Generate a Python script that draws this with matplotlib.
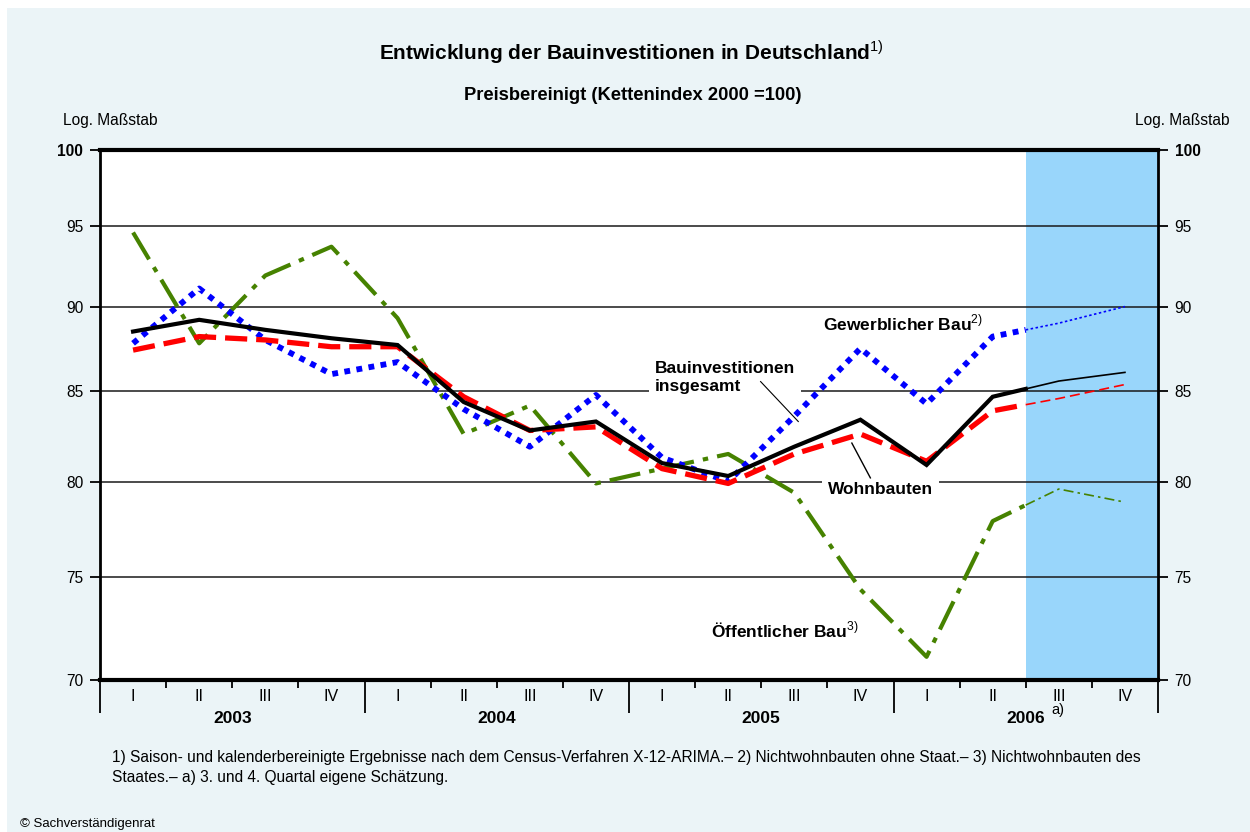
import matplotlib.pyplot as plt
from matplotlib.patches import Rectangle
import numpy as np

plt.rcParams['font.family'] = ['Liberation Sans', 'DejaVu Sans']
plt.rcParams['mathtext.fontset'] = 'custom'
plt.rcParams['mathtext.rm'] = 'Liberation Sans'

# Kettenindex 2000 = 100, Quartale 2003 I bis 2006 IV
quarter_labels = ['I', 'II', 'III', 'IV'] * 4
years = ['2003', '2004', '2005', '2006']
insgesamt = [88.5, 89.2, 88.6, 88.1, 87.7, 84.4, 82.8, 83.3, 81.0, 80.3, 81.9, 83.4, 80.9, 84.7, 85.6, 86.1]
wohnbauten = [87.4, 88.2, 88.0, 87.6, 87.6, 84.7, 82.8, 83.0, 80.7, 79.9, 81.5, 82.6, 81.1, 83.9, 84.6, 85.4]
gewerblich = [87.8, 91.1, 88.0, 86.0, 86.7, 84.0, 81.9, 84.8, 81.3, 80.0, 83.6, 87.5, 84.3, 88.2, 89.0, 90.0]
oeffentlich = [94.6, 87.8, 91.9, 93.7, 89.3, 82.6, 84.2, 79.9, 80.7, 81.5, 79.4, 74.4, 71.1, 77.9, 79.6, 78.9]
yticks = [70, 75, 80, 85, 90, 95, 100]
n_ist = 14  # ab 2006 III eigene Schaetzung

BG = '#EBF4F7'
SHADE = '#99D6FB'
GREEN = '#468200'

fig = plt.figure(figsize=(12.5, 8.32), dpi=100)
fig.patch.set_facecolor('white')
fig.add_artist(Rectangle((7 / 1250, 0), 1, 1 - 8 / 832, transform=fig.transFigure,
                         facecolor=BG, edgecolor='none', zorder=-10))

ax = fig.add_axes([100 / 1250, 1 - 680 / 832, 1058 / 1250, 530 / 832])
ax.set_facecolor('white')
ax.set_yscale('log')
ax.set_ylim(70, 100)
ax.set_xlim(-0.5, 15.5)

ax.axvspan(n_ist - 0.5, 15.5, color=SHADE, lw=0, zorder=0)
for v in yticks[1:-1]:
    ax.axhline(v, color='#1a1a1a', lw=1.1, zorder=1)


def draw(values, color, lw, dashes, thin_dashes, z):
    x = np.arange(len(values), dtype=float)
    vals = np.array(values, dtype=float)
    cut = np.sqrt(vals[n_ist - 1] * vals[n_ist])
    xa = np.append(x[:n_ist], n_ist - 0.5)
    ya = np.append(vals[:n_ist], cut)
    xb = np.insert(x[n_ist:], 0, n_ist - 0.5)
    yb = np.insert(vals[n_ist:], 0, cut)
    l1, = ax.plot(xa, ya, color=color, lw=lw, zorder=z, solid_joinstyle='miter')
    l2, = ax.plot(xb, yb, color=color, lw=1.2, zorder=z)
    if dashes:
        l1.set_dashes(dashes)
        l1.set_dash_capstyle('butt')
    if thin_dashes:
        l2.set_dashes(thin_dashes)


draw(oeffentlich, GREEN, 3.0, (7.5, 2.2, 1.3, 2.2), (6, 2.5, 1.5, 2.5), 3)
draw(gewerblich, '#0000FF', 4.2, (1, 1.1), (1.5, 1.5), 4)
draw(wohnbauten, '#FF0000', 3.8, (4.2, 1.7), (6, 3), 5)
draw(insgesamt, 'black', 3.0, None, None, 6)

# Beschriftungen
lab = dict(fontsize=12.5, fontweight='bold', zorder=2)
ax.text(10.43, 89.0, 'Gewerblicher Bau$^{\\mathrm{2)}}$', va='center', ha='left', **lab)
ax.text(7.89, 85.8, 'Bauinvestitionen\ninsgesamt', va='center', ha='left', linespacing=1.25,
        bbox=dict(facecolor='white', edgecolor='none', pad=4), **lab)
ax.text(10.51, 79.6, 'Wohnbauten', va='center', ha='left',
        bbox=dict(facecolor='white', edgecolor='none', pad=4), **lab)
ax.text(8.74, 72.4, 'Öffentlicher Bau$^{\\mathrm{3)}}$', va='center', ha='left', **lab)
ax.plot([9.49, 10.06], [85.57, 83.3], color='black', lw=0.8, zorder=7)
ax.plot([10.87, 11.15], [82.1, 80.2], color='black', lw=1.0, zorder=7)

# Achsen
for s in ['top', 'bottom']:
    ax.spines[s].set_linewidth(3.0)
for s in ['left', 'right']:
    ax.spines[s].set_linewidth(2.0)
for s in ax.spines.values():
    s.set_zorder(8)

ax.set_yticks(yticks)
ax.set_yticklabels([str(v) for v in yticks])
ax.yaxis.set_minor_locator(plt.NullLocator())
ax.tick_params(axis='y', which='major', left=True, right=True, labelleft=True, labelright=True,
               direction='out', length=7, width=1.3, labelsize=11.2, pad=5)
for t in ax.yaxis.get_major_ticks():
    if t.get_loc() == 100:
        t.label1.set_fontweight('bold')
        t.label2.set_fontweight('bold')

ax.set_xticks(np.arange(-0.5, 16, 4))
ax.set_xticks(np.arange(-0.5, 16, 1), minor=True)
ax.set_xticklabels([])
ax.tick_params(axis='x', which='major', direction='out', length=24, width=1.3)
ax.tick_params(axis='x', which='minor', direction='out', length=6, width=1.3)

xt = ax.get_xaxis_transform()
for i, q in enumerate(quarter_labels):
    ax.text(i, -0.032, q, transform=xt, ha='center', va='center', fontsize=11.5)
for j, yr in enumerate(years):
    ax.text(4 * j + 1.5, -0.072, yr, transform=xt, ha='center', va='center',
            fontsize=12.5, fontweight='bold')
ax.text(13.88, -0.056, 'a)', transform=xt, ha='left', va='center', fontsize=10.5)

fig.text(0.505, 1 - 52 / 832, 'Entwicklung der Bauinvestitionen in Deutschland$^{\\mathrm{1)}}$',
         ha='center', va='center', fontsize=15, fontweight='bold')
fig.text(0.506, 1 - 95 / 832, 'Preisbereinigt (Kettenindex 2000 =100)',
         ha='center', va='center', fontsize=13.2, fontweight='bold')
fig.text(63 / 1250, 1 - 120 / 832, 'Log. Maßstab', ha='left', va='center', fontsize=11.2)
fig.text(1230 / 1250, 1 - 120 / 832, 'Log. Maßstab', ha='right', va='center', fontsize=11.2)

fig.text(112 / 1250, 1 - 767.5 / 832,
         '1) Saison- und kalenderbereinigte Ergebnisse nach dem Census-Verfahren X-12-ARIMA.– '
         '2) Nichtwohnbauten ohne Staat.– 3) Nichtwohnbauten des\n'
         'Staates.– a) 3. und 4. Quartal eigene Schätzung.',
         ha='left', va='center', fontsize=11.2, linespacing=1.4)
fig.text(20 / 1250, 1 - 824 / 832, '© Sachverständigenrat', ha='left', va='center', fontsize=9.5)

fig.savefig('out.png', dpi=100)
